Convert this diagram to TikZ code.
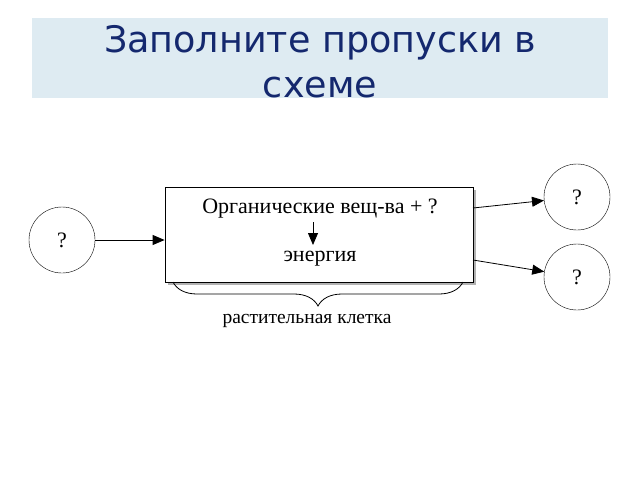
\documentclass[tikz,border=0pt]{standalone}
\usepackage{fontspec}
\setmainfont{Liberation Serif}
\newfontfamily\titlefont{DejaVu Sans}
\usetikzlibrary{arrows.meta,decorations.pathreplacing}
\begin{document}
\begin{tikzpicture}[x=1pt,y=-1pt,
  circ/.style={draw,circle,minimum size=66pt,inner sep=0pt,font=\fontsize{22}{22}\selectfont},
  arr/.style={-{Triangle[length=12pt,width=10pt]},line width=0.8pt},
  txt/.style={font=\fontsize{22}{22}\selectfont}]
\useasboundingbox (0,0) rectangle (640,480);
\fill[white] (0,0) rectangle (640,480);
\fill[fill={rgb,255:red,222;green,235;blue,242}] (32,18) rectangle (608,98);
\node[align=center,text={rgb,255:red,20;green,40;blue,110},font=\titlefont\fontsize{36.5}{45}\selectfont] (title) at (320,62) {Заполните пропуски в\\схеме};
\draw[line width=2pt,gray!60] (168,284) -- (475,284) -- (475,190);
\node[draw,line width=0.8pt,minimum width=308pt,minimum height=95pt,inner sep=0pt] (box) at (319,234.5) {};
\node[txt] (org) at (320,209) {Органические вещ-ва + ?};
\node[txt] (en) at (320,259) {энергия};
\coordinate (a1) at (313,222);
\coordinate (a2) at (313,245);
\draw[arr] (a1) -- (a2);
\node[circ] (L) at (62,240) {?};
\node[circ] (R1) at (577,197) {?};
\node[circ] (R2) at (577,277) {?};
\draw[arr] (L.east) -- (L.east -| box.west);
\coordinate (o1) at (473,208);
\coordinate (o2) at (473,260);
\draw[arr] (o1) -- (R1);
\draw[arr] (o2) -- (R2);
\draw[line width=0.8pt,decorate,decoration={brace,mirror,amplitude=24pt}] (173,282) -- (463,282);
\node[font=\fontsize{19.5}{20}\selectfont] (lbl) at (307,321) {растительная клетка};
\end{tikzpicture}
\end{document}
